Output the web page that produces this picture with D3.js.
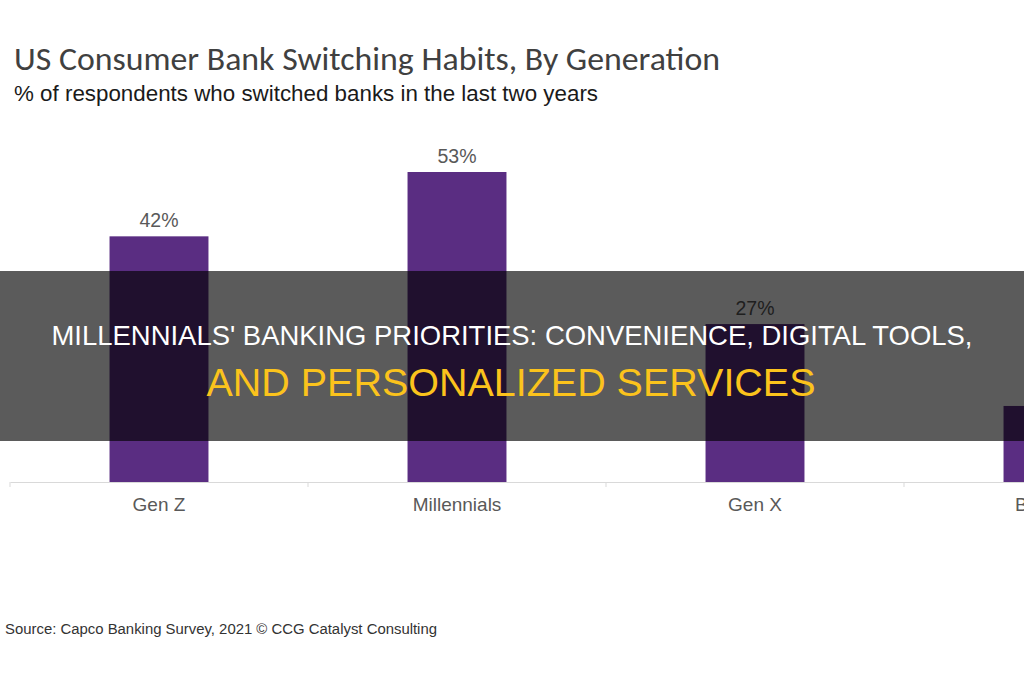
<!DOCTYPE html>
<html>
<head>
<meta charset="utf-8">
<script src="https://cdn.jsdelivr.net/npm/d3@7"></script>
<style>
  body { margin: 0; background: #fff; }
  text { font-family: "Liberation Sans", Arial, sans-serif; }
</style>
</head>
<body>
<div id="chart"></div>
<script>
// chart data
var generations = ["Gen Z", "Millennials", "Gen X", "Boomers"];
var switched = [42, 53, 27, 13];
var valueLabels = ["42%", "53%", "27%", "13%"];

var title = "US Consumer Bank Switching Habits, By Generation";
var subtitle = "% of respondents who switched banks in the last two years";
var source = "Source: Capco Banking Survey, 2021 \u00A9 CCG Catalyst Consulting";
var bannerLine1 = "MILLENNIALS' BANKING PRIORITIES: CONVENIENCE, DIGITAL TOOLS,";
var bannerLine2 = "AND PERSONALIZED SERVICES";

var svgWidth = 1024;
var svgHeight = 680;

var svg = d3.select("#chart")
  .append("svg")
  .attr("width", svgWidth)
  .attr("height", svgHeight);

svg.append("rect")
  .attr("width", svgWidth)
  .attr("height", svgHeight)
  .attr("fill", "#fff");

// band scale runs past the right edge, so Boomers is cut off like the picture
var step = 298;
var x = d3.scaleBand()
  .domain(generations)
  .range([10, 10 + step * generations.length])
  .paddingInner(0.668)
  .paddingOuter(0.334);

var baseY = 482;
var y = d3.scaleLinear()
  .domain([0, 53])
  .range([baseY, 172]);

// titles
svg.append("text")
  .attr("x", 14)
  .attr("y", 70)
  .attr("fill", "#404040")
  .style("font-family", "Carlito, Lato, 'Open Sans', sans-serif")
  .style("font-size", "32px")
  .attr("textLength", 706)
  .attr("lengthAdjust", "spacingAndGlyphs")
  .text(title);

svg.append("text")
  .attr("x", 14)
  .attr("y", 101)
  .attr("fill", "#1a1a1a")
  .style("font-size", "22px")
  .attr("textLength", 584)
  .attr("lengthAdjust", "spacingAndGlyphs")
  .text(subtitle);

// axis
var xAxis = d3.axisBottom(x).tickSize(0).tickPadding(16);
var axisG = svg.append("g")
  .attr("transform", `translate(0, ${baseY})`)
  .call(xAxis);
axisG.select(".domain").attr("stroke", "#d9d9d9");
axisG.selectAll("text")
  .attr("fill", "#595959")
  .style("font-size", "19px")
  .style("font-family", "'Liberation Sans', Arial, sans-serif");

// tick marks at the category boundaries
var gap = x.step() - x.bandwidth();
svg.append("g")
  .selectAll("line")
  .data(generations)
  .enter()
  .append("line")
  .attr("x1", d => x(d) - gap / 2)
  .attr("x2", d => x(d) - gap / 2)
  .attr("y1", baseY)
  .attr("y2", baseY + 5)
  .attr("stroke", "#d9d9d9");

// bars
svg.append("g")
  .selectAll("rect")
  .data(generations)
  .enter()
  .append("rect")
  .attr("x", d => x(d))
  .attr("y", (d, i) => y(switched[i]))
  .attr("width", x.bandwidth())
  .attr("height", (d, i) => baseY - y(switched[i]))
  .attr("fill", "#5a2d82");

// value labels
svg.append("g")
  .selectAll("text")
  .data(generations)
  .enter()
  .append("text")
  .attr("x", d => x(d) + x.bandwidth() / 2)
  .attr("y", (d, i) => y(switched[i]) - 9)
  .attr("text-anchor", "middle")
  .attr("fill", "#595959")
  .style("font-size", "19.5px")
  .text((d, i) => valueLabels[i]);

// source note
svg.append("text")
  .attr("x", 5)
  .attr("y", 634)
  .attr("fill", "#333")
  .style("font-size", "15.5px")
  .attr("textLength", 432)
  .attr("lengthAdjust", "spacingAndGlyphs")
  .text(source);

// dark banner across the middle
svg.append("rect")
  .attr("x", 0)
  .attr("y", 271)
  .attr("width", svgWidth)
  .attr("height", 170)
  .attr("fill", "#000")
  .attr("fill-opacity", 0.645);

svg.append("text")
  .attr("x", 512)
  .attr("y", 345)
  .attr("text-anchor", "middle")
  .attr("fill", "#fff")
  .style("font-size", "27.4px")
  .attr("textLength", 921)
  .attr("lengthAdjust", "spacingAndGlyphs")
  .text(bannerLine1);

svg.append("text")
  .attr("x", 511)
  .attr("y", 396)
  .attr("text-anchor", "middle")
  .attr("fill", "#fbc31c")
  .style("font-size", "39.5px")
  .attr("textLength", 609)
  .attr("lengthAdjust", "spacingAndGlyphs")
  .text(bannerLine2);
</script>
</body>
</html>
